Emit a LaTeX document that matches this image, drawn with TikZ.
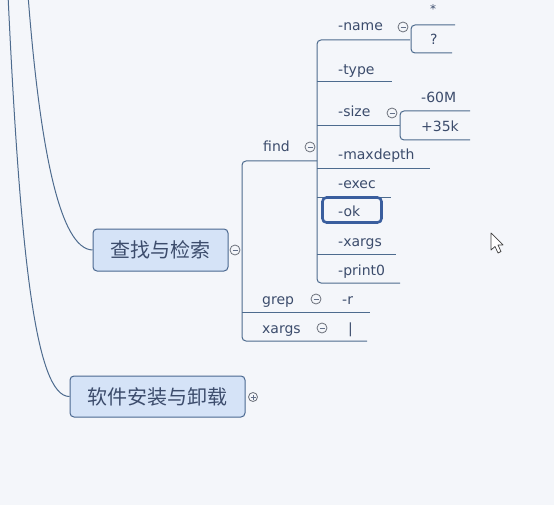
\documentclass[tikz,border=0pt]{standalone}
\usepackage{fontspec}
\setmainfont{DejaVu Sans}
\newfontfamily\cjk{Noto Sans CJK SC}
\definecolor{bg}{HTML}{F4F6FA}
\definecolor{ln}{HTML}{4D6B8E}
\definecolor{tx}{HTML}{3C4C6C}
\definecolor{boxfill}{HTML}{D5E3F7}
\definecolor{boxdraw}{HTML}{4A6890}
\definecolor{sel}{HTML}{3A5E9E}
\begin{document}
\begin{tikzpicture}[x=1pt,y=-1pt,
  lbl/.style={font=\fontsize{14}{16}\selectfont, text=tx, inner sep=0pt, anchor=base west},
  conn/.style={draw=ln, line width=1pt, rounded corners=4pt},
  topic/.style={draw=boxdraw, fill=boxfill, line width=1pt, rounded corners=4pt, font=\cjk\fontsize{20}{22}\selectfont, text=tx, inner sep=0pt},
  tog/.style={circle, draw=gray!70!tx, fill=bg, line width=0.8pt, minimum size=10pt, inner sep=0pt}]
\fill[bg] (0,0) rectangle (554,505);
\useasboundingbox (0,0) rectangle (554,505);

% main topics
\node[topic, minimum width=135pt, minimum height=42pt] (search) at (160.5,250) {查找与检索};
\node[topic, minimum width=175pt, minimum height=41pt] (soft) at (157.5,396.5) {软件安装与卸载};
\node[tog] (tsearch) at (235,250) {};
\draw[tx!80, line width=0.8pt] ([xshift=-2.5pt]tsearch.center) -- ([xshift=2.5pt]tsearch.center);
\node[tog, minimum size=9pt] (tsoft) at (253,397) {};
\draw[tx!80, line width=0.8pt] ([xshift=-2.5pt]tsoft.center) -- ([xshift=2.5pt]tsoft.center)
  ([yshift=-2.5pt]tsoft.center) -- ([yshift=2.5pt]tsoft.center);

% curves from the top
\coordinate (topA) at (8,-5);
\coordinate (topB) at (28,-5);
\draw[ln, line width=1pt] (topA) .. controls (20,250) and (35,397) .. (soft.west);
\draw[ln, line width=1pt] (topB) .. controls (40,150) and (60,249) .. (search.west);

% level-1 branch
\coordinate (v1top) at (242,161);
\coordinate (findj) at (317,161);
\draw[conn] (findj) -- (v1top) -- (242,341) -- (367,341);
\draw[conn] (242,312) -- (370,312);

\node[lbl] (find) at (263,152) {find};
\node[lbl] (grep) at (262,304) {grep};
\node[lbl] (xargs) at (262,333) {xargs};
\node[tog] (tfind) at (310,147) {};
\node[tog] (tgrep) at (316,299) {};
\node[tog] (txargs) at (322,328) {};
\foreach \t in {tfind,tgrep,txargs}
  \draw[tx!80, line width=0.8pt] ([xshift=-2.5pt]\t.center) -- ([xshift=2.5pt]\t.center);
\node[lbl] (r) at (342,304) {-r};
\node[lbl] (pipe) at (348,333) {|};

% find subtree
\draw[conn] (410,40) -- (317,40) -- (317,283) -- (400,283);
\draw[conn] (317,82) -- (392,82);
\draw[conn] (317,126) -- (400,126);
\draw[conn] (317,169) -- (430,169);
\draw[conn] (317,198) -- (391,198);
\draw[conn] (317,254) -- (396,254);

\node[lbl] (name) at (338,31) {-name};
\node[lbl] (type) at (338,75) {-type};
\node[lbl] (size) at (338,117) {-size};
\node[lbl] (maxdepth) at (338,160) {-maxdepth};
\node[lbl] (exec) at (338,189) {-exec};
\node[draw=sel, line width=2.6pt, rounded corners=4pt, fill=bg, minimum width=59pt, minimum height=25pt, inner sep=0pt] (okbox) at (352,210) {};
\node[lbl] (ok) at (338,216) {-ok};
\node[lbl] (xa) at (338,246) {-xargs};
\node[lbl] (print) at (338,275) {-print0};

\node[tog] (tname) at (403,27) {};
\node[tog] (tsize) at (392,113) {};
\foreach \t in {tname,tsize}
  \draw[tx!80, line width=0.8pt] ([xshift=-2.5pt]\t.center) -- ([xshift=2.5pt]\t.center);

% name subtree
\draw[conn] (455,25) -- (411,25) -- (411,53) -- (452,53);
\node[lbl, font=\fontsize{12}{14}\selectfont] (star) at (430,14) {*};
\node[lbl] (q) at (430,45) {?};

% size subtree
\draw[conn] (470,111) -- (400,111) -- (400,140) -- (470,140);
\node[lbl] (m60) at (421,103) {-60M};
\node[lbl] (p35) at (421,132) {+35k};

% mouse cursor
\draw[fill=white, draw=black!75, line width=0.7pt, line join=round]
  (491,233) -- (491,250) -- (495,246.5) -- (498,253) -- (501,251.5) -- (498,245) -- (503,245) -- cycle;
\end{tikzpicture}
\end{document}
